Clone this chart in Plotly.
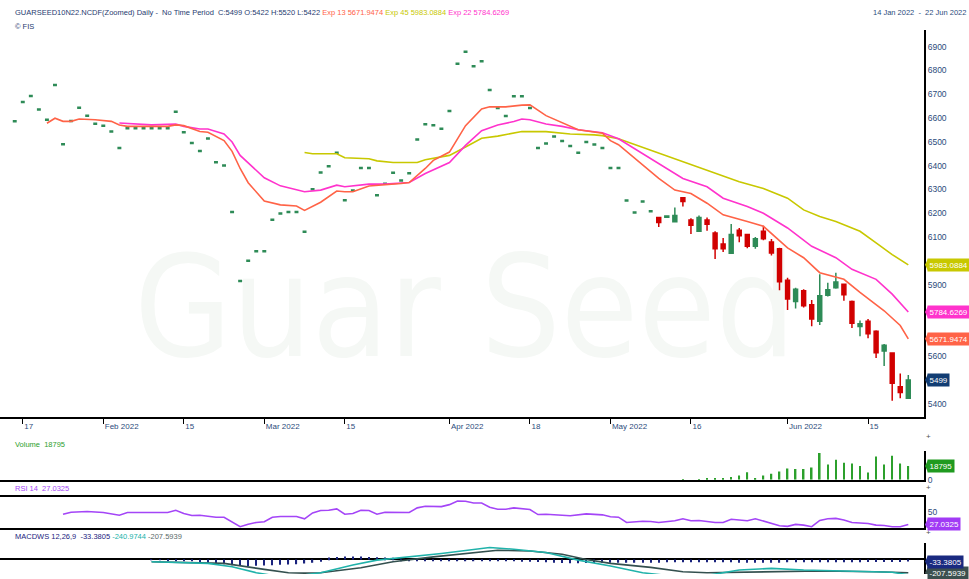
import pandas as pd
import plotly.graph_objects as go

# ---------------- calendar (trading days shown) ----------------
HOLIDAYS = ["2022-01-26", "2022-04-15"]
dates = [d.strftime("%Y-%m-%d") for d in pd.bdate_range("2022-01-14", "2022-06-22")
         if d.strftime("%Y-%m-%d") not in HOLIDAYS]

tick_dates = ["2022-01-17", "2022-02-01", "2022-02-15", "2022-03-01", "2022-03-15", "2022-04-01",
              "2022-04-18", "2022-05-02", "2022-05-16", "2022-06-01", "2022-06-15"]
tick_labels = ["17", "Feb 2022", "15", "Mar 2022", "15", "Apr 2022", "18", "May 2022", "16",
               "Jun 2022", "15"]

# ---------------- price: flat (single-price) sessions, bars 0..79 ----------------
flat_close = [6586, 6667, 6693, 6636, 6593, 6739, 6490, 6587, 6643, 6610,
              6576, 6567, 6543, 6474, 6557, 6557, 6557, 6557, 6557, 6557,
              6626, 6540, 6495, 6461, 6514, 6414, 6400, 6205, 5915, 6000,
              6040, 6040, 6172, 6199, 6205, 6205, 6122, 6301, 6371, 6397,
              6454, 6254, 6295, 6390, 6390, 6275, 6324, 6370, 6337, 6368,
              6510, 6574, 6570, 6555, 6629, 6828, 6878, 6818, 6839, 6718,
              6642, 6608, 6692, 6692, 6642, 6474, 6493, 6522, 6503, 6482,
              6454, 6499, 6489, 6474, 6390, 6390, 6253, 6203, 6249, 6208]

# ---------------- price: full OHLC candles, bars 80..111 ----------------
c_open = [6182, 6183, 6164, 6265, 6171, 6124, 6171, 6117, 6071, 6032, 6128, 6110, 6061, 6124, 6079, 6051,
          5918, 5829, 5874, 5815, 5746, 5855, 5887, 5901, 5829, 5724, 5746, 5704, 5621, 5612, 5471, 5422]
c_high = [6182, 6190, 6224, 6265, 6179, 6190, 6182, 6124, 6096, 6155, 6138, 6110, 6100, 6147, 6092, 6055,
          5929, 5887, 5880, 5835, 5943, 5908, 5950, 5905, 5833, 5749, 5755, 5708, 5650, 5612, 5526, 5520]
c_low = [6142, 6180, 6164, 6228, 6113, 6124, 6126, 6008, 6037, 6032, 6078, 6053, 6051, 6086, 6022, 5876,
         5793, 5800, 5804, 5725, 5730, 5850, 5883, 5832, 5718, 5683, 5675, 5592, 5558, 5412, 5422, 5422]
c_close = [6161, 6188, 6190, 6249, 6149, 6182, 6154, 6051, 6051, 6110, 6105, 6061, 6093, 6093, 6033, 5912,
           5839, 5880, 5811, 5755, 5853, 5878, 5911, 5857, 5737, 5735, 5693, 5614, 5645, 5485, 5446, 5499]

# ---------------- exponential averages (read at bar index) ----------------
ema13_idx = [4, 5, 6, 7, 8, 10, 12, 13, 14, 19, 20, 21, 23, 24, 26, 27, 28, 29, 31, 33, 35, 36, 38, 40, 41, 42,
             44, 46, 48, 49, 51, 52, 54, 56, 58, 59, 61, 63, 64, 66, 69, 70, 73, 74, 75, 80, 82, 84, 86, 88,
             91, 93, 96, 98, 100, 103, 105, 108, 110, 111]
ema13_val = [6578, 6599, 6586, 6586, 6596, 6593, 6586, 6571, 6565, 6565, 6571, 6568, 6543, 6540, 6505, 6460,
             6388, 6328, 6251, 6235, 6230, 6212, 6246, 6293, 6290, 6290, 6314, 6318, 6325, 6329, 6388, 6422,
             6457, 6568, 6638, 6647, 6647, 6654, 6655, 6610, 6565, 6551, 6536, 6505, 6488, 6346, 6297, 6283,
             6242, 6193, 6165, 6145, 6054, 6013, 5950, 5922, 5867, 5790, 5728, 5671.9474]

ema22_idx = [13, 15, 17, 20, 21, 23, 24, 26, 27, 28, 31, 33, 36, 38, 40, 41, 42, 44, 46, 49, 51, 54, 56, 58,
             60, 62, 63, 64, 66, 68, 70, 73, 75, 83, 86, 88, 91, 93, 96, 99, 102, 104, 107, 109, 111]
ema22_val = [6579, 6575, 6571, 6575, 6565, 6554, 6554, 6533, 6499, 6443, 6349, 6315, 6290, 6297, 6318, 6311,
             6314, 6322, 6322, 6329, 6367, 6413, 6485, 6547, 6571, 6585, 6596, 6593, 6575, 6565, 6551, 6538,
             6513, 6346, 6311, 6263, 6228, 6200, 6138, 6061, 6013, 5964, 5922, 5860, 5784.6269]

ema45_idx = [36, 37, 40, 41, 44, 45, 47, 50, 51, 54, 56, 58, 60, 63, 66, 69, 72, 73, 75, 89, 90, 93, 96, 98,
             100, 102, 105, 107, 109, 111]
ema45_val = [6455, 6450, 6450, 6433, 6429, 6420, 6413, 6413, 6425, 6443, 6478, 6515, 6524, 6543, 6543, 6533,
             6529, 6526, 6513, 6346, 6332, 6304, 6263, 6214, 6186, 6165, 6124, 6075, 6026, 5983.0884]

# ---------------- volume ----------------
vol_idx = [83, 85, 86, 87, 88, 89, 90, 91, 92, 93, 94, 95, 96, 97, 98, 99, 100, 101, 102, 103, 104, 105,
           106, 107, 108, 109, 110, 111]
vol_val = [900, 900, 1800, 1800, 1800, 3700, 6000, 10500, 2300, 6000, 8250, 11460, 15590, 14670, 14670,
           16960, 36670, 21090, 27500, 23380, 22460, 18800, 10080, 32090, 21090, 33000, 22460, 18795]

# ---------------- RSI 14 ----------------
rsi_idx = [6, 7, 9, 11, 13, 14, 19, 20, 21, 22, 23, 25, 26, 28, 29, 30, 31, 32, 33, 35, 36, 37, 38, 39, 40,
           41, 42, 43, 44, 45, 46, 49, 50, 51, 53, 54, 55, 56, 57, 58, 59, 60, 61, 62, 64, 65, 66, 68, 69, 71,
           73, 74, 75, 76, 78, 79, 80, 82, 83, 84, 85, 87, 88, 89, 91, 92, 93, 95, 96, 97, 98, 99, 100, 101,
           102, 103, 104, 105, 106, 107, 108, 109, 110, 111]
rsi_val = [45.6, 49.2, 50.5, 48.7, 43.8, 48.7, 48.7, 52.8, 46.9, 43.2, 43.8, 40.2, 40.2, 22.8, 27.5, 30.6,
           31.8, 40.2, 41.4, 41.4, 37.3, 48.1, 52.3, 52.8, 55.4, 45.6, 46.9, 52.8, 52.3, 45.6, 49.2, 48.7,
           57.2, 60.1, 59.5, 63.1, 69.8, 69.3, 66.2, 66.0, 58.5, 54.6, 54.6, 57.2, 54.1, 45.0, 45.6, 43.8,
           42.7, 46.3, 44.5, 40.9, 40.2, 30.6, 32.9, 32.4, 30.6, 33.6, 37.3, 33.6, 34.2, 30.6, 30.6, 36.5,
           33.6, 37.3, 32.9, 24.6, 23.5, 27.0, 25.7, 22.8, 34.2, 37.3, 38.0, 35.0, 30.6, 29.5, 28.8, 25.7,
           25.1, 22.8, 22.8, 27.0325]

# ---------------- MACD (12,26,9) ----------------
macd_idx = [17, 24, 27, 30, 33, 35, 38, 42, 45, 49, 53, 59, 62, 66, 70, 74, 78, 82, 86, 90, 94, 98, 102,
            109, 111]
macd_val = [-37, -62, -115, -208, -270, -260, -208, -88, -11, 40, 93, 186, 160, 109, -11, -104, -208, -265,
            -250, -166, -140, -166, -181, -201, -240.9744]
sig_idx = [17, 26, 31, 34, 36, 38, 43, 47, 52, 57, 60, 64, 68, 71, 74, 79, 83, 86, 93, 100, 107, 111]
sig_val = [-37, -62, -155, -208, -215, -208, -130, -37, 40, 109, 144, 133, 82, 0, -62, -124, -192, -208,
           -192, -181, -192, -207.5939]
hist_idx = list(range(17, 112))
hist_val = [-10, -12, -15, -20, -25, -30, -40, -50, -60, -75, -90, -100, -105, -100, -95, -90, -85, -80,
            -75, -65, -50, -35, 30, 40, 45, 45, 45, 40, 35, 30, 25, -25, -30, -30, -30, -30, -30, -30, -30,
            -30, -30, -30, -30, -30, -30, -30, -35, -35, -40, -45, -50, -55, -60, -60, -55, -55, -50, -50,
            -50, -50, -50, -50, -50, -50, -45, -45, -45, -45, -45, -45, -45, -45, -45, -50, -50, -50, -50,
            -50, -50, -45, -45, -45, -45, -45, -45, -45, -45, -45, -45, -40, -40, -40, -40, -40, -33.3805]

# ---------------- styling ----------------
FONT = "Liberation Sans, Arial, sans-serif"
AX_TXT = "#2c4c7c"
C_GREEN = "#2e8b57"
C_RED = "#d10000"
C_E13 = "#ff6347"
C_E22 = "#ff33cc"
C_E45 = "#c8c800"
C_RSI = "#a445f7"
C_MACD = "#20b2aa"
C_SIG = "#34504f"
C_HIST = "#1a237e"
C_VOL = "#2ca02c"

W, H = 969, 579
PW = 924  # plot width in px (left margin 0)


def px(xp):
    return xp / PW


def py(yp):
    return 1 - yp / H


def at(idx):
    return [dates[i] for i in idx]


fig = go.Figure()

# flat single-price sessions
n_flat = len(flat_close)
fig.add_trace(go.Candlestick(
    x=dates[:n_flat], open=flat_close, high=flat_close, low=flat_close, close=flat_close,
    increasing=dict(line=dict(color=C_GREEN, width=2.5), fillcolor=C_GREEN),
    decreasing=dict(line=dict(color=C_GREEN, width=2.5), fillcolor=C_GREEN),
    whiskerwidth=0, hoverinfo="skip", xaxis="x", yaxis="y"))

fig.add_trace(go.Candlestick(
    x=dates[n_flat:n_flat + len(c_close)], open=c_open, high=c_high, low=c_low, close=c_close,
    increasing=dict(line=dict(color=C_GREEN, width=1.5), fillcolor=C_GREEN),
    decreasing=dict(line=dict(color=C_RED, width=1.5), fillcolor=C_RED),
    whiskerwidth=0, hoverinfo="skip", xaxis="x", yaxis="y"))

for idx, val, col in [(ema45_idx, ema45_val, C_E45), (ema22_idx, ema22_val, C_E22), (ema13_idx, ema13_val, C_E13)]:
    fig.add_trace(go.Scatter(x=at(idx), y=val, mode="lines", line=dict(color=col, width=1.6),
                             hoverinfo="skip", xaxis="x", yaxis="y"))

fig.add_trace(go.Bar(x=at(vol_idx), y=vol_val, marker=dict(color=C_VOL, line=dict(width=0)), width=0.2,
                     hoverinfo="skip", xaxis="x2", yaxis="y2"))

fig.add_trace(go.Scatter(x=at(rsi_idx), y=rsi_val, mode="lines", line=dict(color=C_RSI, width=1.6),
                         hoverinfo="skip", xaxis="x3", yaxis="y3"))

fig.add_trace(go.Bar(x=at(hist_idx), y=hist_val, marker=dict(color=C_HIST, line=dict(width=0)), width=0.15,
                     hoverinfo="skip", xaxis="x4", yaxis="y4"))
fig.add_trace(go.Scatter(x=at(sig_idx), y=sig_val, mode="lines", line=dict(color=C_SIG, width=1.6),
                         hoverinfo="skip", xaxis="x4", yaxis="y4", cliponaxis=True))
fig.add_trace(go.Scatter(x=at(macd_idx), y=macd_val, mode="lines", line=dict(color=C_MACD, width=1.6),
                         hoverinfo="skip", xaxis="x4", yaxis="y4", cliponaxis=True))

XR = [-1.83, 112.95]
base_x = dict(type="category", categoryorder="array", categoryarray=dates, range=XR, showgrid=False,
              zeroline=False, fixedrange=True, rangeslider=dict(visible=False))

main_dom = [py(421), py(30)]
vol_dom = [py(484), py(455)]
rsi_dom = [py(532.7), py(501.3)]
macd_dom = [0, py(548)]

# main price ticks; labels hidden behind the value tags are left out
Y_RANGE = [5342, 6971]
tag_values = [ema45_val[-1], ema22_val[-1], ema13_val[-1], c_close[-1]]
price_ticks = [v for v in range(5400, 7000, 100) if min(abs(v - t) for t in tag_values) > 40]

yax_common = dict(side="right", showgrid=False, zeroline=False, showline=True, linewidth=2,
                  linecolor="black", ticks="", tickfont=dict(family=FONT, size=8.5, color=AX_TXT),
                  fixedrange=True)

fig.update_layout(
    width=W, height=H, margin=dict(l=0, r=W - PW, t=0, b=0),
    paper_bgcolor="white", plot_bgcolor="white", showlegend=False, boxgap=0.3,
    font=dict(family=FONT, size=9, color=AX_TXT),
    xaxis=dict(**base_x, anchor="y", showline=True, linewidth=2, linecolor="black",
               ticks="outside", ticklen=5, tickwidth=1, tickcolor="black",
               tickmode="array", tickvals=tick_dates, ticktext=tick_labels,
               ticklabelposition="outside right",
               tickfont=dict(family=FONT, size=8, color=AX_TXT)),
    xaxis2=dict(**base_x, anchor="y2", matches="x", showline=True, linewidth=2, linecolor="black",
                showticklabels=False, ticks=""),
    xaxis3=dict(**base_x, anchor="y3", matches="x", showline=True, mirror=True, linewidth=2,
                linecolor="black", showticklabels=False, ticks=""),
    xaxis4=dict(**base_x, anchor="y4", matches="x", showline=False, showticklabels=False, ticks=""),
    yaxis=dict(**yax_common, domain=main_dom, range=Y_RANGE, tickmode="array", tickvals=price_ticks,
               anchor="x"),
    yaxis2=dict(**yax_common, domain=vol_dom, range=[0, 39380], tickvals=[0], anchor="x2"),
    yaxis3=dict(**yax_common, domain=rsi_dom, range=[20.3, 77.1], tickvals=[50], anchor="x3"),
    yaxis4=dict(side="right", showgrid=False, showline=True, linewidth=2, linecolor="black",
                zeroline=True, zerolinewidth=2, zerolinecolor="black", showticklabels=False,
                domain=macd_dom, range=[-228, 253], anchor="x4", fixedrange=True),
)

# watermark (behind the data)
fig.add_shape(type="rect", xref="paper", yref="paper", x0=px(120), x1=px(810), y0=py(392), y1=py(208),
              line=dict(width=0), fillcolor="rgba(0,0,0,0)", layer="below",
              label=dict(text="Guar Seed", textposition="middle center",
                         font=dict(family="DejaVu Sans Condensed, Liberation Sans Narrow, Liberation Sans, Arial",
                                   size=140, color="#f5f8f5")))

# header texts
hdr = ("GUARSEED10N22.NCDF(Zoomed) Daily -  No Time Period  C:%d O:%d H:%d L:%d "
       "<span style='color:%s'>Exp 13 %s</span> <span style='color:%s'>Exp 45 %s</span> "
       "<span style='color:%s'>Exp 22 %s</span>") % (
    c_close[-1], c_open[-1], c_high[-1], c_low[-1],
    C_E13, "%.4f" % ema13_val[-1], "#c8c800", "%.4f" % ema45_val[-1], C_E22, "%.4f" % ema22_val[-1])


def note(text, xp, yp, color, size=8, anchor="left"):
    fig.add_annotation(text=text, xref="paper", yref="paper", x=px(xp), y=py(yp), xanchor=anchor,
                       yanchor="middle", showarrow=False, font=dict(family=FONT, size=size, color=color))


note(hdr, 13, 13, "#1f3b70", size=7.5)
note("© FIS", 13, 27, "#1f3b70", size=7.5)
note("%s  -  %s" % ("14 Jan 2022", "22 Jun 2022"), 968, 13, "#2c4c7c", size=7.5, anchor="right")
note("Volume  %d" % vol_val[-1], 13, 448, "#2ca02c", size=7.5)
note("RSI 14  %.4f" % rsi_val[-1], 13, 493, C_RSI, size=7.5)
note("MACDWS 12,26,9  <span style='color:%s'>%.4f</span> <span style='color:%s'>%.4f</span> "
     "<span style='color:%s'>%.4f</span>" % (C_HIST, hist_val[-1], C_MACD, macd_val[-1], "#5a6a6a", sig_val[-1]),
     13, 541, "#1a237e", size=7.5)
for yy in (440, 492, 537):
    note("+", 928, yy, "#555555", size=8, anchor="center")


# value tags on the right axis
def tag(value, yref, text, color):
    fig.add_shape(type="path", xref="paper", xsizemode="pixel", xanchor=1, yref=yref,
                  ysizemode="pixel", yanchor=value, path="M 1,0 L 4,6 L 4,-6 Z",
                  fillcolor=color, line=dict(width=0), layer="above")
    fig.add_annotation(text=text, xref="paper", yref=yref, x=1, y=value, xanchor="left", yanchor="middle",
                       xshift=3, showarrow=False, bgcolor=color, borderpad=1.5,
                       font=dict(family=FONT, size=8, color="white"))


tag(ema45_val[-1], "y", "%.4f" % ema45_val[-1], C_E45)
tag(ema22_val[-1], "y", "%.4f" % ema22_val[-1], C_E22)
tag(ema13_val[-1], "y", "%.4f" % ema13_val[-1], C_E13)
tag(c_close[-1], "y", "%d" % c_close[-1], "#123d73")
tag(vol_val[-1], "y2", "%d" % vol_val[-1], "#1f9a1f")
tag(rsi_val[-1], "y3", "%.4f" % rsi_val[-1], "#a13bf5")
tag(sig_val[-1], "y4", "%.4f" % sig_val[-1], "#3c4f4f")
tag(hist_val[-1], "y4", "%.4f" % hist_val[-1], "#1a2a80")

fig.write_html("out.html", config={"displayModeBar": False},
               post_script="document.body.style.margin='0';document.body.style.overflow='hidden';")
